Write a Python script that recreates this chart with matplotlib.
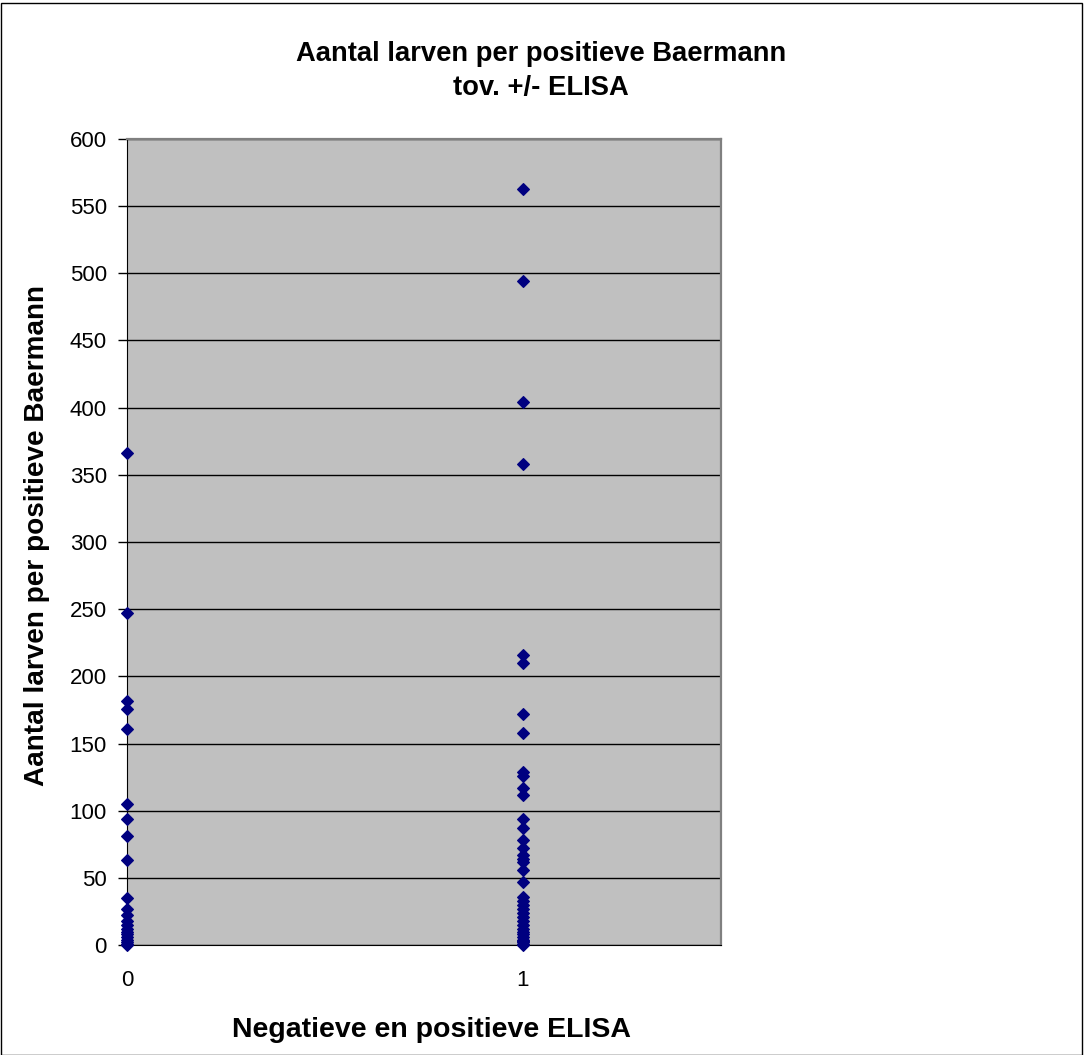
import matplotlib
matplotlib.use("Agg")
import matplotlib.pyplot as plt
from matplotlib.patches import Rectangle

# Data
neg_values = [366, 247, 182, 176, 161, 105, 94, 81, 63, 35, 27, 22, 18, 15, 12, 10, 8, 6, 4, 2, 1, 0]
pos_values = [563, 494, 404, 358, 216, 210, 172, 158, 129, 126, 117, 112, 94, 87, 78, 72, 67, 64, 62,
              56, 47, 36, 33, 30, 27, 24, 21, 18, 15, 12, 10, 8, 6, 4, 3, 2, 1, 0]
x_ticks = [0, 1]
y_ticks = list(range(0, 601, 50))

title_lines = ["Aantal larven per positieve Baermann", "tov. +/- ELISA"]
xlabel = "Negatieve en positieve ELISA"
ylabel = "Aantal larven per positieve Baermann"

W, H = 1084, 1055
plt.rcParams['font.family'] = ['Liberation Sans', 'DejaVu Sans']
fig = plt.figure(figsize=(W / 100, H / 100), dpi=100)

ax = fig.add_axes([127 / W, 1 - 945 / H, (721 - 127) / W, (945 - 139) / H])
ax.set_facecolor('#C0C0C0')

xs = [0] * len(neg_values) + [1] * len(pos_values)
ys = neg_values + pos_values
ax.plot(xs, ys, linestyle='none', marker='D', markersize=6.0, color='#000080',
        markeredgecolor='#000080', markeredgewidth=0.8, clip_on=False, zorder=3)

ax.set_xlim(0, 1.5)
ax.set_ylim(0, 600)
ax.set_yticks(y_ticks)
ax.set_xticks(x_ticks)
ax.tick_params(axis='y', direction='out', length=6.5, width=1, labelsize=16, pad=8)
ax.tick_params(axis='x', length=0, labelsize=16, pad=18)
ax.yaxis.grid(True, color='black', linewidth=1)
ax.set_axisbelow(True)

for side in ['top', 'right']:
    ax.spines[side].set_color('#808080')
    ax.spines[side].set_linewidth(1.6)
ax.spines['bottom'].set_color('black')
ax.spines['left'].set_color('black')

fig.text(541 / W, 1 - 54 / H, title_lines[0], fontsize=19.7, fontweight='bold', ha='center', va='center')
fig.text(541 / W, 1 - 88 / H, title_lines[1], fontsize=19.7, fontweight='bold', ha='center', va='center')
fig.text(431 / W, 1 - 1030 / H, xlabel, fontsize=20.5, fontweight='bold', ha='center', va='center')
fig.text(37 / W, 1 - 535 / H, ylabel, fontsize=20.1, fontweight='bold', ha='center', va='center',
         rotation=90)

fig.patches.append(Rectangle((0.5 / W, 0.5 / H), 1 - 3 / W, 1 - 3 / H, transform=fig.transFigure,
                             fill=False, edgecolor='black', linewidth=1))

fig.savefig('out.png', dpi=100, facecolor='white')
